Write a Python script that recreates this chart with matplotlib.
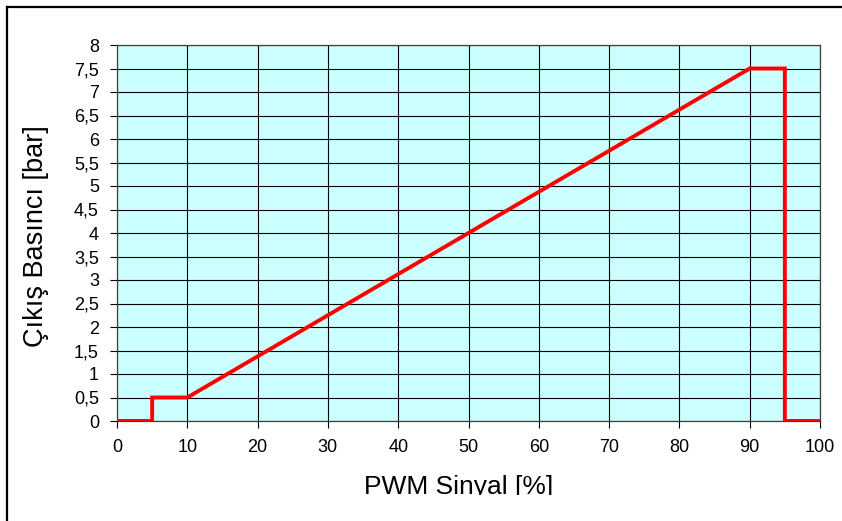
import matplotlib
matplotlib.use("Agg")
import matplotlib.pyplot as plt
from matplotlib.lines import Line2D
from matplotlib.patches import Rectangle
from matplotlib.ticker import FuncFormatter

plt.rcParams['font.family'] = ['Liberation Sans', 'DejaVu Sans']

# PWM signal (%) vs output pressure (bar)
pwm = [0, 5, 5, 10, 90, 95, 95, 100]
pressure = [0, 0, 0.5, 0.5, 7.5, 7.5, 0, 0]

x_ticks = list(range(0, 101, 10))
y_ticks = [i * 0.5 for i in range(17)]

W, H = 842, 521
fig = plt.figure(figsize=(W / 100, H / 100), dpi=100)
fig.patch.set_facecolor('white')

# outer chart frame: only top and left edges fall inside the image
fig.add_artist(Line2D([7 / W, 1], [1 - 7 / H, 1 - 7 / H], transform=fig.transFigure,
                      color='black', linewidth=1.6))
fig.add_artist(Line2D([7 / W, 7 / W], [0, 1 - 7 / H], transform=fig.transFigure,
                      color='black', linewidth=1.6))

ax = fig.add_axes([117 / W, 1 - 421 / H, (820 - 117) / W, (421 - 45) / H])
ax.set_facecolor('#CCFFFF')

ax.plot(pwm, pressure, color='#FF0000', linewidth=2.8, solid_joinstyle='miter', zorder=3)

ax.set_xlim(0, 100)
ax.set_ylim(0, 8)
ax.set_xticks(x_ticks)
ax.set_yticks(y_ticks)
ax.yaxis.set_major_formatter(FuncFormatter(lambda v, p: ('%g' % v).replace('.', ',')))

ax.grid(True, color='black', linewidth=0.8, zorder=1)
ax.set_axisbelow(True)
for s in ax.spines.values():
    s.set_color('#404040')
    s.set_linewidth(0.9)

ax.tick_params(axis='both', direction='out', length=5, width=0.8, color='black',
               labelsize=13, labelcolor='black')
ax.tick_params(axis='x', pad=8)
ax.tick_params(axis='y', pad=8)

fig.text(36 / W, 1 - 236 / H, 'Çıkış Basıncı [bar]', rotation=90, fontsize=19.5,
         ha='center', va='center')

xl = fig.text(459 / W, 1 - 475 / H, 'PWM Sinyal [%]', fontsize=19,
              ha='center', va='top')
# label is cut off at the bottom of the chart frame
clip = Rectangle((0, 1 - 495 / H), 1, 495 / H, transform=fig.transFigure,
                 visible=False)
fig.add_artist(clip)
xl.set_clip_path(clip)
xl.set_clip_on(True)

fig.savefig('out.png', dpi=100)
